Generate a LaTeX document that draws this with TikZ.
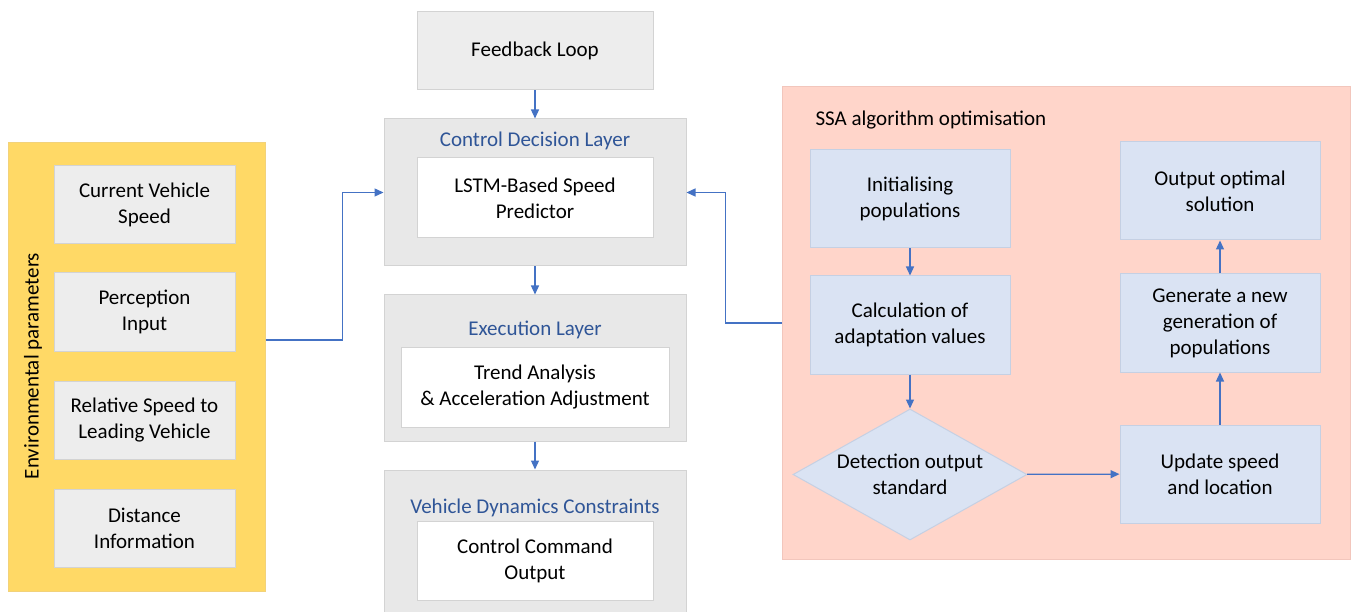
\documentclass[tikz,border=0pt]{standalone}
\usepackage{fontspec}
\setmainfont{Carlito}
\usepackage{tikz}
\usetikzlibrary{shapes.geometric,arrows.meta}
\definecolor{envyellow}{HTML}{FFD966}
\definecolor{envline}{HTML}{F2D27A}
\definecolor{boxgrey}{HTML}{EDEDED}
\definecolor{layergrey}{HTML}{E8E8E8}
\definecolor{greyline}{HTML}{D3D3D3}
\definecolor{ssapink}{HTML}{FFD5CA}
\definecolor{ssaline}{HTML}{F2C6BC}
\definecolor{ssablue}{HTML}{DAE3F3}
\definecolor{blueline}{HTML}{C5D0E3}
\definecolor{titleblue}{HTML}{2F5597}
\definecolor{arrowblue}{HTML}{4472C4}
\tikzstyle{panel}=[rectangle, line width=1pt, inner sep=0pt]
\tikzstyle{greybox}=[rectangle, minimum width=181pt, minimum height=78pt, text centered, align=center, draw=greyline, fill=boxgrey, line width=1pt]
\tikzstyle{layer}=[panel, minimum width=302pt, draw=greyline, fill=layergrey]
\tikzstyle{inner}=[rectangle, minimum width=236pt, minimum height=80pt, text centered, align=center, draw=greyline, fill=white, line width=1pt]
\tikzstyle{ssabox}=[rectangle, minimum width=200pt, minimum height=98pt, text centered, align=center, draw=blueline, fill=ssablue, line width=1pt]
\tikzstyle{decision}=[diamond, aspect=1.79, inner sep=0pt, minimum width=234pt, minimum height=131pt, align=center, draw=blueline, fill=ssablue, line width=1pt]
\tikzstyle{arr}=[draw=arrowblue, line width=1.3pt, -{Triangle[length=9pt,width=8pt]}]

\begin{document}
\begin{tikzpicture}[x=1pt, y=-1pt, font=\fontsize{21}{26}\selectfont]
\clip (0,0) rectangle (1352,612);
\fill[white] (0,0) rectangle (1352,612);

% environmental parameters
\node[panel, minimum width=257pt, minimum height=448pt, draw=envline, fill=envyellow] (env) at (136.5,367) {};
\node[rotate=90] (envlabel) at (33,366) {Environmental parameters};
\node[greybox] (cvs) at (144.5,205) {Current Vehicle\\Speed};
\node[greybox] (perc) at (144.5,312) {Perception\\Input};
\node[greybox] (rel) at (144.5,420) {Relative Speed to\\Leading Vehicle};
\node[greybox] (dist) at (144.5,528) {Distance\\Information};

% centre column
\node[rectangle, minimum width=236pt, minimum height=78pt, draw=greyline, fill=boxgrey, line width=1pt] (feed) at (535,51) {\raisebox{-2pt}{Feedback Loop}};
\node[layer, minimum height=147pt] (cdl) at (535,192.5) {};
\node[text=titleblue] (cdltitle) at (535,141) {Control Decision Layer};
\node[inner] (lstm) at (535,198) {LSTM-Based Speed\\Predictor};
\node[layer, minimum height=146pt] (exe) at (535,368) {};
\node[text=titleblue] (exetitle) at (535,330) {Execution Layer};
\node[inner, minimum width=268pt] (trend) at (535,387) {Trend Analysis\\\& Acceleration Adjustment};
\node[layer, minimum height=160pt] (vdc) at (535,550) {};
\node[text=titleblue] (vdctitle) at (535,508) {Vehicle Dynamics Constraints};
\node[inner, minimum height=79pt] (cmd) at (535,560.5) {Control Command\\Output};

% SSA optimisation
\node[panel, minimum width=568pt, minimum height=472pt, draw=ssaline, fill=ssapink] (ssa) at (1066,323) {};
\node[anchor=west] (ssatitle) at (812,120) {SSA algorithm optimisation};
\node[ssabox] (init) at (910,199) {Initialising\\populations};
\node[ssabox] (calc) at (910,325) {Calculation of\\adaptation values};
\node[decision] (detect) at (910,474.5) {Detection output\\standard};
\node[ssabox] (upd) at (1220,474) {Update speed\\and location};
\node[ssabox] (gen) at (1220,323) {Generate a new\\generation of\\populations};
\node[ssabox] (out) at (1220,191) {Output optimal\\solution};

\draw[arr] (feed) -- (cdl);
\draw[arr] (cdl) -- (exe);
\draw[arr] (exe) -- (vdc);
\draw[arr] ([yshift=27pt]env.east) -- ++(77,0) |- (cdl.west);
\draw[arr] (ssa.west) -- ++(-56,0) |- (cdl.east);
\draw[arr] (init) -- (calc);
\draw[arr] (calc) -- (detect);
\draw[arr] (detect) -- (upd);
\draw[arr] (upd) -- (gen);
\draw[arr] (gen) -- (out);
\end{tikzpicture}
\end{document}
